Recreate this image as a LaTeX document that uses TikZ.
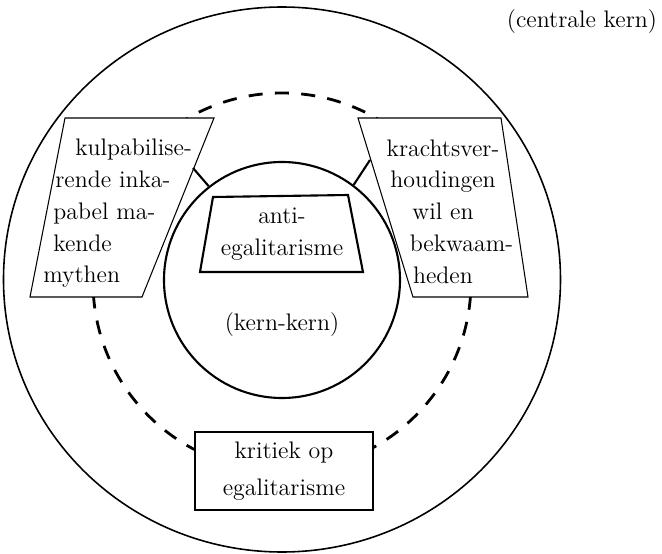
\documentclass[tikz,border=0pt]{standalone}
\usepackage{tikz}
\usetikzlibrary{positioning,shapes}

\begin{document}
\begin{tikzpicture}[
  tekst/.style={font=\fontsize{13.6}{18.1}\selectfont, inner sep=0pt},
  kader/.style={draw, fill=white, line width=0.6pt},
  dik/.style={line width=1.2pt},
]
  \useasboundingbox (-5.64,-5.48) rectangle (7.6,5.6);

  % Cirkels: centrale kern, stippellijn, kern-kern
  \draw[line width=0.9pt] (0,0.01) ellipse [x radius=5.57, y radius=5.45];
  \draw[line width=1.6pt, dash pattern=on 8pt off 7pt] (0,-0.04) circle (3.78);
  \node[draw, circle, dik, minimum size=4.72cm, inner sep=0pt] (kern) at (0,0) {};

  \node[tekst] (centraal) at (6.0,5.16) {(centrale kern)};
  \node[tekst] (kernkern) at (0,-0.9) {(kern-kern)};

  % Linker kader
  \draw[kader] (-5.04,-0.34) -- (-2.80,-0.34) -- (-1.36,3.24) -- (-4.34,3.24) -- cycle;
  \node[tekst, align=left, anchor=west] (mythen) at (-4.78,1.33)
    {\hspace*{0.64cm}kulpabilise-\\\hspace*{0.24cm}rende inka-\\\hspace*{0.2cm}pabel ma-\\\hspace*{0.2cm}kende\\mythen};
  \coordinate (links) at (-1.78,2.24);
  \draw[dik] (links) -- (kern.128);

  % Rechter kader
  \draw[kader] (2.62,-0.34) -- (4.92,-0.34) -- (4.38,3.24) -- (1.52,3.24) -- cycle;
  \node[tekst, align=center] (krachten) at (3.22,1.37)
    {krachtsver-\\houdingen\\wil en\\\hspace*{0.74cm}bekwaam-\\heden};
  \coordinate (rechts) at (1.76,2.40);
  \draw[dik] (rechts) -- (kern.53);

  % Anti-egalitarisme in het midden
  \draw[dik, fill=white] (-1.38,1.66) -- (1.32,1.70) -- (1.62,0.16) -- (-1.64,0.16) -- cycle;
  \node[tekst, align=center] (anti) at (0,0.92) {anti-\\egalitarisme};

  % Onderste kader
  \node[kader, line width=0.9pt, minimum width=3.56cm, minimum height=1.56cm] (kritiek) at (0.04,-3.82) {};
  \node[tekst, align=center, font=\fontsize{13.6}{21}\selectfont] (kritiektekst) at (kritiek) {kritiek op\\egalitarisme};
\end{tikzpicture}
\end{document}
